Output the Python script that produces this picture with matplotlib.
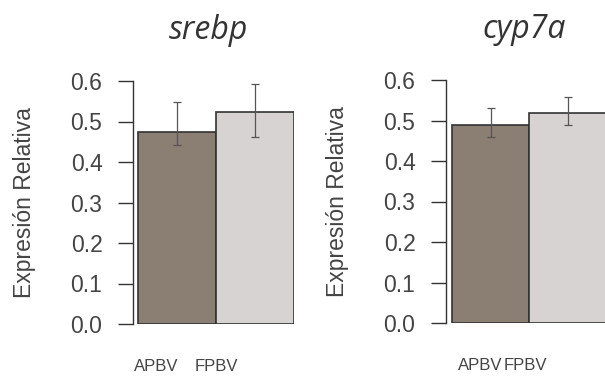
import numpy as np
import matplotlib
matplotlib.use('Agg')
import matplotlib.pyplot as plt

# Datos
grupos = ['APBV', 'FPBV']
genes = ['srebp', 'cyp7a']
medias = {'srebp': [0.475, 0.524], 'cyp7a': [0.489, 0.518]}
err_sup = {'srebp': [0.547, 0.593], 'cyp7a': [0.530, 0.558]}
err_inf = {'srebp': [0.441, 0.462], 'cyp7a': [0.459, 0.489]}
colores = ['#8b7e72', '#d7d3d2']
yticks = [0.0, 0.1, 0.2, 0.3, 0.4, 0.5, 0.6]

# posiciones (ejes en píxeles -> fracción de figura)
W, H = 605, 376
paneles = [
	dict(rect=[133 / W, (H - 324) / H, 161 / W, 243 / H], xlim=(-0.564, 1.5), lab=[-0.26, 0.51], tx=0.47),
	dict(rect=[446 / W, (H - 323) / H, 160 / W, 243 / H], xlim=(-0.578, 1.5), lab=[-0.14, 0.45], tx=0.49),
]

fig = plt.figure(figsize=(W / 100, H / 100), dpi=100)
gris = '#444444'

for gen, p in zip(genes, paneles):
	ax = fig.add_axes(p['rect'])
	x = np.arange(len(grupos))
	m = np.array(medias[gen])
	yerr = [m - np.array(err_inf[gen]), np.array(err_sup[gen]) - m]
	ax.bar(x, m, width=1.0, color=colores, edgecolor='#333333', linewidth=1.2)
	ax.errorbar(x, m, yerr=yerr, fmt='none', ecolor='#555555', elinewidth=0.9, capsize=3, capthick=0.9, clip_on=False)
	ax.set_xlim(*p['xlim'])
	ax.set_ylim(0, 0.6)
	ax.set_yticks(yticks)
	ax.set_yticklabels(['%.1f' % v for v in yticks], fontsize=16.5, color=gris, family='Liberation Sans')
	ax.tick_params(axis='y', length=11, width=1, color='#333333', pad=11)
	ax.set_xticks(p['lab'])
	ax.set_xticklabels(grupos, fontsize=12, color=gris, family='Liberation Sans')
	ax.tick_params(axis='x', length=0, pad=25)
	for s in ['top', 'right', 'bottom']:
		ax.spines[s].set_visible(False)
	ax.spines['left'].set_color('#333333')
	ax.spines['left'].set_linewidth(1.0)
	ax.set_ylabel('Expresión Relativa', fontsize=16.5, color=gris, family='Liberation Sans', labelpad=25)
	ax.set_title(gen, fontsize=23, style='italic', family='Open Sans', color='#333333', pad=30, x=p['tx'])

fig.savefig('out.png', dpi=100)
